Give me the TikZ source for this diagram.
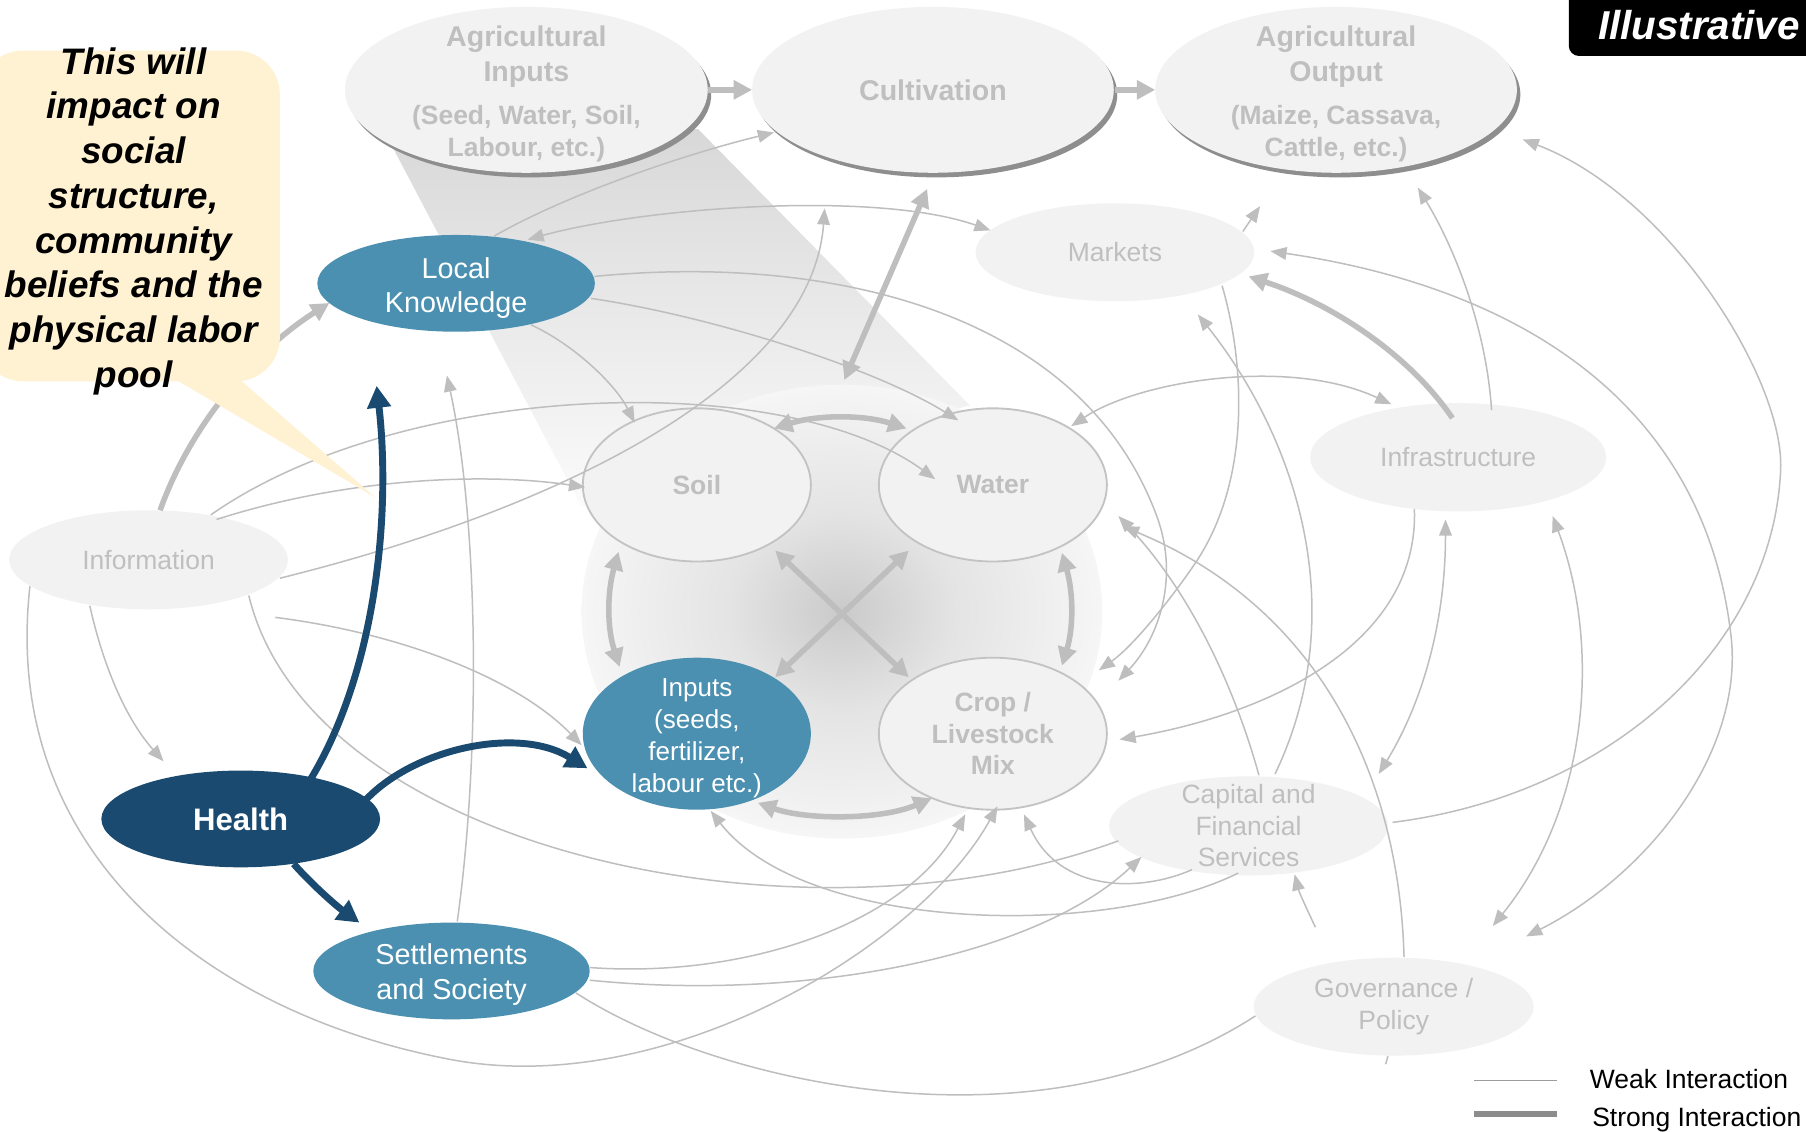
\documentclass[tikz,border=0pt]{standalone}
\usepackage{fontspec}
\setmainfont{Liberation Sans}
\usetikzlibrary{shapes.geometric,arrows.meta}
\definecolor{lgfill}{HTML}{F2F2F2}
\definecolor{lgtext}{HTML}{BFBFBF}
\definecolor{lnk}{HTML}{BEBEBE}
\definecolor{steel}{HTML}{4B90B0}
\definecolor{navyc}{HTML}{1A4A6F}
\definecolor{cream}{HTML}{FFF2D3}
\definecolor{shadowc}{HTML}{8E8E8E}
\definecolor{bordc}{HTML}{C3C3C3}
\definecolor{coreIn}{HTML}{CACACA}
\definecolor{coreA}{HTML}{E4E4E4}
\definecolor{coreB}{HTML}{EFEFEF}
\definecolor{coreOut}{HTML}{F6F6F6}
\definecolor{beamTop}{HTML}{D8D8D8}
\definecolor{beamBot}{HTML}{FBFBFB}
\definecolor{legweak}{HTML}{9C9C9C}
\definecolor{legstrong}{HTML}{8C8C8C}
\pgfdeclareradialshading{coreshade}{\pgfpoint{0bp}{0bp}}{color(0bp)=(coreIn);color(11bp)=(coreA);color(20bp)=(coreB);color(25bp)=(coreOut);color(50bp)=(coreOut)}
\begin{document}
\begin{tikzpicture}[x=0.5pt,y=-0.5pt,
  lnode/.style={ellipse, inner sep=-12pt, fill=lgfill, text=lgtext, align=center},
  bnode/.style={ellipse, inner sep=-12pt, fill=steel, text=white, align=center},
  shnode/.style={ellipse, inner sep=0pt, fill=shadowc},
  gtxt/.style={font=\fontsize{11.5pt}{13.75pt}\selectfont},
  gbold/.style={font=\fontsize{11.5pt}{13.75pt}\selectfont\bfseries},
  weak/.style={draw=lnk, line width=0.65pt},
  wa/.style={weak, -{Triangle[length=7pt,width=5.5pt]}},
  wab/.style={weak, {Triangle[length=7pt,width=5.5pt]}-{Triangle[length=7pt,width=5.5pt]}},
  strong/.style={draw=lnk, line width=2.4pt},
  sa/.style={strong, -{Triangle[length=8pt,width=8pt]}},
  sab/.style={strong, {Triangle[length=8pt,width=8pt]}-{Triangle[length=8pt,width=8pt]}},
  nv/.style={draw=navyc, line width=3pt, -{Triangle[length=9.5pt,width=10pt]}}
]
\useasboundingbox (0,0) rectangle (1568,982);
\fill[white] (0,0) rectangle (1568,982);
\clip (0,0) rectangle (1568,982);

% beam and core
\shade[top color=beamTop, bottom color=beamBot] (341,128) -- (606,112) -- (842,352) -- (505,440) -- cycle;
\node[ellipse, inner sep=0pt, minimum width=226pt, minimum height=197pt, shade, shading=coreshade] (core) at (731,531) {};

% top row
\node[shnode, minimum width=157.5pt, minimum height=72pt] (aginsh) at (460,82) {};
\node[lnode, minimum width=157.5pt, minimum height=72pt] (agin) at (457,78) {};
\node[text=lgtext, font=\fontsize{12.4pt}{15pt}\selectfont\bfseries, align=center, inner sep=0pt] (agint) at (457,49) {Agricultural\\Inputs};
\node[text=lgtext, font=\fontsize{11.5pt}{14pt}\selectfont\bfseries, align=center, inner sep=0pt] (aginp) at (457,116) {(Seed, Water, Soil,\\Labour, etc.)};

\node[shnode, minimum width=157pt, minimum height=72pt] (cultsh) at (813,82) {};
\node[lnode, minimum width=157pt, minimum height=72pt, font=\fontsize{12.4pt}{15pt}\selectfont\bfseries] (cult) at (810,78) {Cultivation};

\node[shnode, minimum width=157pt, minimum height=72pt] (agoutsh) at (1163,82) {};
\node[lnode, minimum width=157pt, minimum height=72pt] (agout) at (1160,78) {};
\node[text=lgtext, font=\fontsize{12.4pt}{15pt}\selectfont\bfseries, align=center, inner sep=0pt] (agoutt) at (1160,49) {Agricultural\\Output};
\node[text=lgtext, font=\fontsize{11.5pt}{14pt}\selectfont\bfseries, align=center, inner sep=0pt] (agoutp) at (1160,116) {(Maize, Cassava,\\Cattle, etc.)};

% other nodes
\node[lnode, gtxt, minimum width=121pt, minimum height=42.5pt] (mkt) at (968,219) {Markets};
\node[bnode, font=\fontsize{12.5pt}{15pt}\selectfont, minimum width=120.5pt, minimum height=42pt] (lk) at (396,246) {\rule{0pt}{13pt}Local\\Knowledge};
\node[lnode, gtxt, minimum width=121pt, minimum height=43pt] (info) at (129,486) {Information};
\node[lnode, gtxt, minimum width=128.5pt, minimum height=47pt] (infra) at (1266,397) {Infrastructure};
\node[lnode, gbold, draw=bordc, line width=0.8pt, minimum width=99pt, minimum height=66.5pt] (soil) at (605,421) {Soil};
\node[lnode, gbold, draw=bordc, line width=0.8pt, minimum width=99pt, minimum height=66.5pt] (water) at (862,421) {Water};
\node[bnode, font=\fontsize{11.3pt}{13.9pt}\selectfont, minimum width=99pt, minimum height=66pt] (inp) at (605,637) {\rule{0pt}{11.6pt}Inputs\\(seeds,\\fertilizer,\\labour etc.)};
\node[lnode, gbold, draw=bordc, line width=0.8pt, minimum width=99pt, minimum height=66pt] (crop) at (862,637) {Crop /\\Livestock\\Mix};
\node[ellipse, inner sep=-12pt, fill=navyc, text=white, font=\fontsize{13.5pt}{16pt}\selectfont\bfseries, minimum width=121pt, minimum height=42pt] (health) at (209,711) {Health};
\node[bnode, font=\fontsize{12.5pt}{15pt}\selectfont, minimum width=120pt, minimum height=42pt] (settle) at (392,843) {\rule{0pt}{12pt}Settlements\\and Society};
\node[lnode, gtxt, minimum width=121pt, minimum height=43pt] (cap) at (1084,717) {Capital and\\Financial\\Services};
\node[lnode, gtxt, minimum width=121.5pt, minimum height=42.5pt] (gov) at (1210,874) {Governance /\\Policy};

% free ends
\coordinate (c3) at (716,181);

% weak interactions
\draw[wa] ([shift={(33,-41)}]lk.center) .. controls (490,170) and (590,135) .. ([shift={(-138,37)}]cult.center);
\draw[wab] ([shift={(62,-38)}]lk.center) .. controls (560,180) and (760,165) .. ([shift={(-108,-19)}]mkt.center);
\draw[wa] ([shift={(114,16)}]info.center) .. controls (493,440) and (705,331) .. (c3);
\draw[wa] ([shift={(54,-39)}]info.center) .. controls (350,330) and (680,320) .. ([shift={(-50,-5)}]water.center);
\draw[wa] ([shift={(59,-35)}]info.center) .. controls (300,415) and (420,410) .. ([shift={(-97,2)}]soil.center);
\draw[wa] ([shift={(65,36)}]lk.center) .. controls (500,300) and (535,335) .. ([shift={(-54,-54)}]soil.center);
\draw[wa] ([shift={(117,13)}]lk.center) .. controls (620,275) and (760,320) .. ([shift={(-30,-56)}]water.center);
\draw[wa] ([shift={(120,-6)}]lk.center) .. controls (720,220) and (940,270) .. (1005,450) .. controls (1024,504) and (1005,555) .. ([shift={(109,-46)}]crop.center);
\draw[wa] ([shift={(93,29)}]mkt.center) .. controls (1082,320) and (1085,420) .. (1037,490) .. controls (1018,518) and (985,560) .. ([shift={(92,-55)}]crop.center);
\draw[wa] ([shift={(23,-45)}]cap.center) .. controls (1175,530) and (1125,380) .. ([shift={(72,54)}]mkt.center);
\draw[wa] ([shift={(9,-44)}]cap.center) .. controls (1070,590) and (1030,510) .. ([shift={(109,27)}]water.center);
\draw[wa] ([shift={(9,-43)}]gov.center) .. controls (1215,680) and (1150,530) .. ([shift={(113,36)}]water.center);
\draw[wab] ([shift={(68,-51)}]water.center) .. controls (990,330) and (1120,310) .. ([shift={(-58,-46)}]infra.center);
\draw[wa] ([shift={(111,-18)}]mkt.center) -- ([shift={(-66,101)}]agout.center);
\draw[wab] ([shift={(135,-1)}]mkt.center) .. controls (1320,250) and (1480,350) .. (1503,553) .. controls (1514,654) and (1430,760) .. ([shift={(115,-61)}]gov.center);
\draw[wa] ([shift={(125,-3)}]cap.center) .. controls (1400,690) and (1540,560) .. (1546,407) .. controls (1549,330) and (1450,170) .. ([shift={(162,43)}]agout.center);
\draw[wa] ([shift={(29,-41)}]infra.center) .. controls (1290,280) and (1260,210) .. ([shift={(71,85)}]agout.center);
\draw[wa] ([shift={(-38,45)}]infra.center) .. controls (1232,560) and (1100,620) .. ([shift={(110,5)}]crop.center);
\draw[wab] ([shift={(-11,54)}]infra.center) .. controls (1255,540) and (1235,610) .. ([shift={(113,-45)}]cap.center);
\draw[wab] ([shift={(82,51)}]infra.center) .. controls (1390,560) and (1380,700) .. ([shift={(86,-70)}]gov.center);
\draw[wa] ([shift={(-49,38)}]cap.center) .. controls (990,775) and (920,775) .. ([shift={(27,70)}]crop.center);
\draw[wa] ([shift={(-9,41)}]cap.center) .. controls (960,815) and (700,810) .. ([shift={(12,67)}]inp.center);
\draw[weak] ([shift={(87,31)}]info.center) .. controls (270,740) and (700,830) .. ([shift={(-113,13)}]cap.center);
\draw[wa] ([shift={(110,50)}]info.center) .. controls (350,550) and (450,590) .. ([shift={(-100,10)}]inp.center);
\draw[wa] ([shift={(-51,40)}]info.center) .. controls (90,580) and (110,625) .. ([shift={(-67,-50)}]health.center);
\draw[wa] ([shift={(-103,23)}]info.center) .. controls (0,740) and (180,880) .. (392,920) .. controls (580,955) and (800,820) .. ([shift={(4,63)}]crop.center);
\draw[wa] ([shift={(120,-3)}]settle.center) .. controls (650,850) and (790,800) .. ([shift={(-24,70)}]crop.center);
\draw[wa] ([shift={(120,8)}]settle.center) .. controls (700,870) and (900,830) .. ([shift={(-93,27)}]cap.center);
\draw[weak] ([shift={(108,19)}]settle.center) .. controls (620,940) and (900,1005) .. ([shift={(-120,8)}]gov.center);
\draw[wa] ([shift={(5,-43)}]settle.center) .. controls (418,650) and (415,450) .. ([shift={(-8,80)}]lk.center);
\draw[wa] ([shift={(-68,-69)}]gov.center) .. controls (1135,790) and (1128,775) .. ([shift={(40,42)}]cap.center);
\draw[weak] ([shift={(-5,43)}]gov.center) -- ([shift={(-7,50)}]gov.center);

% strong interactions
\draw[sa] ([shift={(158,0)}]agin.center) -- ([shift={(-157,0)}]cult.center);
\draw[sa] ([shift={(158,0)}]cult.center) -- ([shift={(-157,0)}]agout.center);
\draw[sab] ([shift={(-5,86)}]cult.center) -- ([shift={(2,-201)}]core.center);
\draw[sab] ([shift={(67,-49)}]soil.center) .. controls (710,360) and (750,360) .. ([shift={(-75,-49)}]water.center);
\draw[sab] ([shift={(-68,58)}]soil.center) .. controls (527,515) and (527,545) .. ([shift={(-67,-58)}]inp.center);
\draw[sab] ([shift={(60,59)}]water.center) .. controls (932,515) and (932,545) .. ([shift={(60,-59)}]crop.center);
\draw[sab] ([shift={(53,60)}]inp.center) .. controls (700,712) and (765,712) .. ([shift={(-53,56)}]crop.center);
\draw[sab] ([shift={(68,57)}]soil.center) -- ([shift={(-73,-49)}]crop.center);
\draw[sab] ([shift={(-73,57)}]water.center) -- ([shift={(68,-49)}]inp.center);
\draw[sa] ([shift={(10,-43)}]info.center) .. controls (165,370) and (220,305) .. ([shift={(-110,17)}]lk.center);
\draw[sa] ([shift={(-5,-34)}]infra.center) .. controls (1225,310) and (1160,265) .. ([shift={(116,21)}]mkt.center);

% health links
\draw[nv] ([shift={(61,-35)}]health.center) .. controls (325,585) and (340,450) .. ([shift={(-69,89)}]lk.center);
\draw[nv] ([shift={(109,-17)}]health.center) .. controls (360,650) and (450,630) .. ([shift={(-95,30)}]inp.center);
\draw[nv] ([shift={(46,39)}]health.center) .. controls (268,765) and (290,785) .. ([shift={(-80,-42)}]settle.center);

% callout
\fill[cream, rounded corners=19pt] (-18,44) rectangle (243,331);
\fill[cream] (145,325) -- (203,325) -- (326,432) -- cycle;
\node[align=center, inner sep=0pt, font=\fontsize{16pt}{19.4pt}\selectfont\bfseries\itshape] (callout) at (116,192) {This will\\impact on\\social\\structure,\\community\\beliefs and the\\physical labor\\pool};

% illustrative tag
\fill[black, rounded corners=4.5pt] (1362,-30) rectangle (1620,48.6);
\node[anchor=base west, inner sep=0pt, text=white, font=\fontsize{17.5pt}{20pt}\selectfont\bfseries\itshape] (illus) at (1387,34.5) {Illustrative};

% legend
\draw[legweak, line width=0.7pt] (1280,938) -- (1352,938);
\draw[legstrong, line width=2.8pt] (1280,967) -- (1352,967);
\node[anchor=base west, inner sep=0pt, font=\fontsize{11.5pt}{13pt}\selectfont] (legw) at (1380,945) {Weak Interaction};
\node[anchor=base west, inner sep=0pt, font=\fontsize{11.5pt}{13pt}\selectfont] (legs) at (1382,978) {Strong Interaction};
\end{tikzpicture}
\end{document}
